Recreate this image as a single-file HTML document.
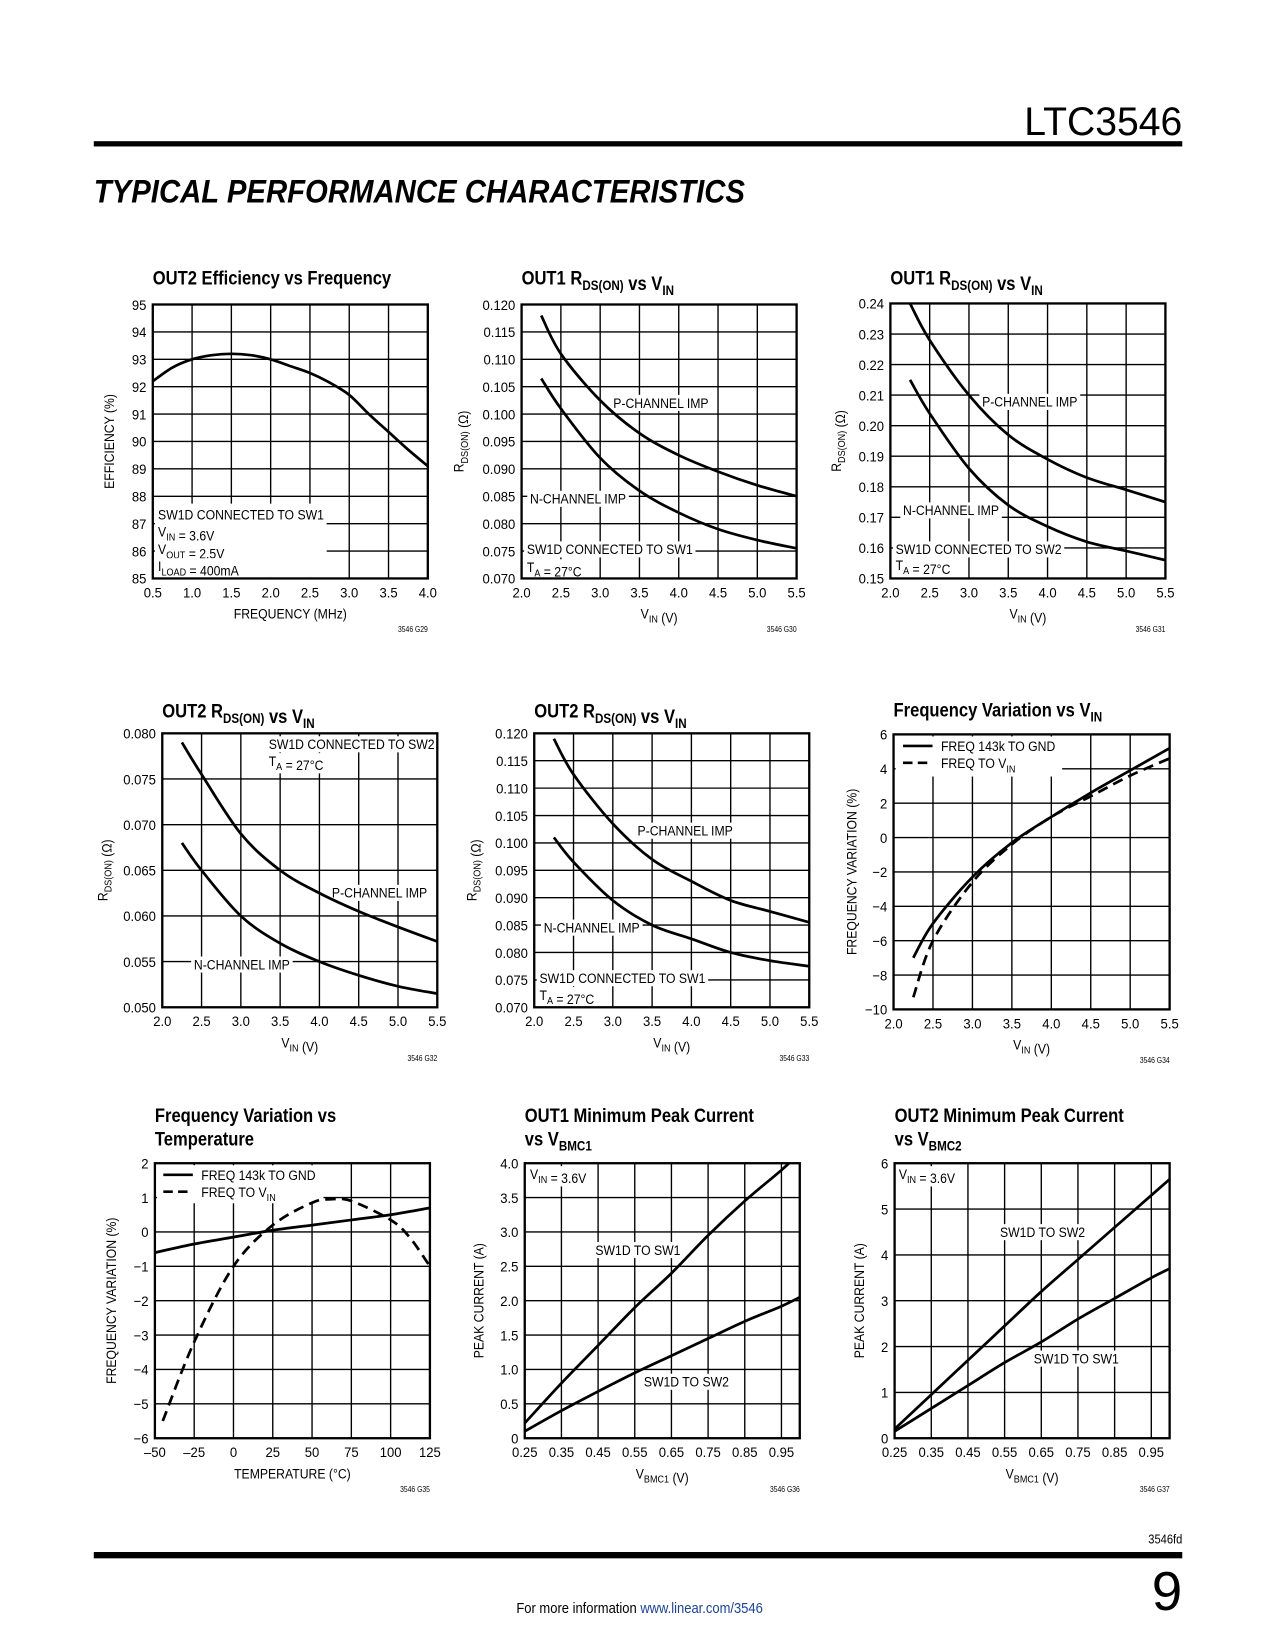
<!DOCTYPE html>
<html><head><meta charset="utf-8">
<style>
html,body{margin:0;padding:0;background:#fff;}
svg{display:block;}
text{font-family:"Liberation Sans",sans-serif;fill:#000;}
</style></head>
<body>
<svg id="page" width="1275" height="1650" viewBox="0 0 1210 1566" preserveAspectRatio="none" xmlns="http://www.w3.org/2000/svg">
<text x="1122" y="128" text-anchor="end" font-size="38" textLength="150" lengthAdjust="spacingAndGlyphs">LTC3546</text>
<rect x="89" y="134" width="1033" height="5" fill="#000"/>
<text x="89" y="192" font-size="31" font-weight="bold" font-style="italic" textLength="618" lengthAdjust="spacingAndGlyphs">TYPICAL PERFORMANCE CHARACTERISTICS</text>
<text x="1122" y="1465" text-anchor="end" font-size="12" transform="translate(1122 0) scale(0.88 1) translate(-1122 0)">3546fd</text>
<rect x="89" y="1473" width="1033" height="6" fill="#000"/>
<text x="1122" y="1528" text-anchor="end" font-size="52">9</text>
<text x="607" y="1531" text-anchor="middle" font-size="14" transform="translate(607 0) scale(0.88 1) translate(-607 0)">For more information <tspan style="fill:#1a3fa8">www.linear.com/3546</tspan></text>
</svg>
<script>
// ---- Chart data ----
const c1X=[0.5,0.75,1.0,1.25,1.5,1.75,2.0,2.25,2.5,2.75,3.0,3.25,3.5,3.75,4.0];
const c1Eff=[92.2,92.7,93.0,93.15,93.2,93.15,93.0,92.75,92.5,92.15,91.7,91.0,90.35,89.7,89.1];
const c2X=[2.25,2.5,3.0,3.5,4.0,4.5,5.0,5.5];
const c2P=[0.118,0.111,0.1025,0.0965,0.0925,0.0895,0.087,0.085];
const c2N=[0.1065,0.101,0.092,0.086,0.082,0.079,0.077,0.0755];
const c3X=[2.25,2.5,3.0,3.5,4.0,4.5,5.0,5.5];
const c3P=[0.24,0.228,0.21,0.197,0.189,0.183,0.179,0.175];
const c3N=[0.215,0.204,0.186,0.174,0.167,0.162,0.159,0.156];
const c4X=[2.25,2.5,3.0,3.5,4.0,4.5,5.0,5.5];
const c4P=[0.079,0.0755,0.069,0.065,0.0625,0.0605,0.0588,0.0572];
const c4N=[0.068,0.065,0.060,0.057,0.055,0.0535,0.0523,0.0515];
const c5X=[2.25,2.5,3.0,3.5,4.0,4.5,5.0,5.5];
const c5P=[0.119,0.1125,0.1035,0.097,0.093,0.0895,0.0875,0.0855];
const c5N=[0.101,0.0965,0.0895,0.085,0.0825,0.080,0.0785,0.0775];
const c6X=[2.25,2.5,3.0,3.5,4.0,4.5,5.0,5.5];
const c6Gnd=[-7.0,-5.0,-2.3,-0.3,1.2,2.6,3.9,5.2];
const c6Vin=[-9.3,-6.0,-2.6,-0.4,1.2,2.4,3.6,4.6];
const c7X=[-50,-25,0,25,50,75,100,125];
const c7Gnd=[-0.6,-0.35,-0.15,0.05,0.2,0.35,0.5,0.7];
const c7Xd=[-45,-25,0,25,50,62,75,100,112,125];
const c7Vin=[-5.5,-3.2,-1.0,0.2,0.85,0.95,0.9,0.35,-0.15,-1.0];
const c8X=[0.25,0.35,0.45,0.55,0.65,0.75,0.85,0.95,1.0];
const c8Sw1=[0.22,0.8,1.35,1.9,2.4,2.95,3.45,3.9,4.15];
const c8Sw2=[0.1,0.4,0.68,0.95,1.2,1.45,1.7,1.92,2.05];
const c9X=[0.25,0.35,0.45,0.55,0.65,0.75,0.85,0.95,1.0];
const c9Sw2=[0.2,0.95,1.7,2.45,3.2,3.9,4.6,5.3,5.65];
const c9Sw1=[0.15,0.65,1.15,1.65,2.1,2.6,3.05,3.5,3.7];
// tick labels
const tkR1=["2.0","2.5","3.0","3.5","4.0","4.5","5.0","5.5"];
const tkC1x=["0.5","1.0","1.5","2.0","2.5","3.0","3.5","4.0"];
const tkC1y=["85","86","87","88","89","90","91","92","93","94","95"];
const tkC2y=["0.070","0.075","0.080","0.085","0.090","0.095","0.100","0.105","0.110","0.115","0.120"];
const tkC3y=["0.15","0.16","0.17","0.18","0.19","0.20","0.21","0.22","0.23","0.24"];
const tkC4y=["0.050","0.055","0.060","0.065","0.070","0.075","0.080"];
const tkC6y=["\u221210","\u22128","\u22126","\u22124","\u22122","0","2","4","6"];
const tkC7x=["\u201350","\u201325","0","25","50","75","100","125"];
const tkC7y=["\u22126","\u22125","\u22124","\u22123","\u22122","\u22121","0","1","2"];
const tkC8x=["0.25","0.35","0.45","0.55","0.65","0.75","0.85","0.95"];
const tkC8y=["0","0.5","1.0","1.5","2.0","2.5","3.0","3.5","4.0"];
const tkC9y=["0","1","2","3","4","5","6"];

const NS='http://www.w3.org/2000/svg';
const svg=document.getElementById('page');
const SC=0.86, SCT=0.92;
function mk(p,tag,attrs){const e=document.createElementNS(NS,tag);for(const k in attrs)e.setAttribute(k,attrs[k]);p.appendChild(e);return e;}
function T(p,x,y,size,html,o){o=o||{};
  const t=mk(p,'text',{x:0,y:0,'font-size':size,'text-anchor':o.anchor||'start','font-weight':o.bold?'bold':'normal',
    transform:'translate('+x+' '+y+') '+(o.rot?'rotate(-90) ':'')+'scale('+(o.sc||SC)+' 1)'});
  t.innerHTML=html;return t;}
function range(a,b,s){const r=[];for(let v=a;v<=b+1e-9;v+=s)r.push(+v.toFixed(6));return r;}
function smooth(pts){let d='M'+pts[0][0]+','+pts[0][1];for(let i=0;i<pts.length-1;i++){const p0=pts[i-1]||pts[i],p1=pts[i],p2=pts[i+1],p3=pts[i+2]||p2;
d+=' C'+(p1[0]+(p2[0]-p0[0])/6)+','+(p1[1]+(p2[1]-p0[1])/6)+' '+(p2[0]-(p3[0]-p1[0])/6)+','+(p2[1]-(p3[1]-p1[1])/6)+' '+p2[0]+','+p2[1];}return d;}
let clipN=0;
function drawChart(c){
  const g=mk(svg,'g',{});
  
  
  const sx=v=>c.x0+(v-c.xmin)/(c.xmax-c.xmin)*(c.x1-c.x0);
  const sy=v=>c.y1-(v-c.ymin)/(c.ymax-c.ymin)*(c.y1-c.y0);
  c.title.forEach((t,i)=>{const tt=T(g,c.x0,c.ty+i*22,18.5,t,{bold:true,sc:0.85});
    
    });
  c.xgrid.forEach(v=>{const l=mk(g,'line',{x1:sx(v),x2:sx(v),y1:c.y0,y2:c.y1,stroke:'#000','stroke-width':1.3});
    
    });
  c.ygrid.forEach(v=>{const l=mk(g,'line',{x1:c.x0,x2:c.x1,y1:sy(v),y2:sy(v),stroke:'#000','stroke-width':1.3});
    
    });
  (c.boxes||[]).forEach(bx=>{const r=mk(g,'rect',{x:bx[0],y:bx[1],width:bx[2],height:bx[3],fill:'#fff'});
    
    });
  (c.notes||[]).forEach(n=>{const t=T(g,n.x,n.y,13.5,n.t);
    
    
    const b=t.getBBox();const r=mk(g,'rect',{x:b.x-3,y:b.y,width:b.width+6,height:b.height,fill:'#fff',transform:t.getAttribute('transform')});
    
    
    g.insertBefore(r,t);});
  (c.legend||[]).forEach(L=>{const l=mk(g,'line',{x1:L.x,x2:L.x+28,y1:L.y,y2:L.y,stroke:'#000','stroke-width':2.5,'stroke-dasharray':L.dash?'9 5':'none'});
    
    
    const t=T(g,L.x+36,L.y+5,13.5,L.t);
    
    });
  const cid='clip'+(clipN++);
  const cp=mk(g,'clipPath',{id:cid});mk(cp,'rect',{x:c.x0,y:c.y0,width:c.x1-c.x0,height:c.y1-c.y0});
  c.series.forEach(s=>{const pts=s.x.map((v,i)=>[sx(v),sy(s.y[i])]);
    const p=mk(g,'path',{d:smooth(pts),fill:'none',stroke:'#000','stroke-width':2.6,'stroke-dasharray':s.dash?'10 6':'none','clip-path':'url(#'+cid+')'});
    
    });
  const fr=mk(g,'rect',{x:c.x0,y:c.y0,width:c.x1-c.x0,height:c.y1-c.y0,fill:'none',stroke:'#000','stroke-width':2.2});
  
  
  c.xticks.forEach((v,i)=>{const t=T(g,sx(v),c.y1+18,13.5,c.xlab[i],{anchor:'middle',sc:SCT});
    
    });
  c.yticks.forEach((v,i)=>{const t=T(g,c.x0-6,sy(v)+5,13.5,c.ylab[i],{anchor:'end',sc:SCT});
    
    });
  const xt=T(g,(c.x0+c.x1)/2,c.y1+38,13.5,c.xtitle,{anchor:'middle'});
  
  
  const yt=T(g,c.ytx,(c.y0+c.y1)/2,13.5,c.ytitle,{anchor:'middle',rot:true});
  
  
  const code=T(g,c.x1,c.y1+51,7.5,c.code,{anchor:'end'});
  
  
}
const sub=(a,b)=>a+'<tspan dy="4" font-size="10">'+b+'</tspan><tspan dy="-4"></tspan>';
const subT=(a,b)=>a+'<tspan dy="5" font-size="13">'+b+'</tspan><tspan dy="-5"></tspan>';
const RDS=sub('R','DS(ON)')+' (\u03A9)';
const VINX=sub('V','IN')+' (V)';
const vx=range(2,5.5,0.5);
const TA=sub('T','A')+' = 27\u00B0C';

drawChart({name:'chart-out2-efficiency',x0:145,x1:406,y0:289,y1:549,xmin:0.5,xmax:4,ymin:85,ymax:95,ty:270,
 title:['OUT2 Efficiency vs Frequency'],xgrid:range(0.5,4,0.5),ygrid:range(85,95,1),xticks:range(0.5,4,0.5),xlab:tkC1x,yticks:range(85,95,1),ylab:tkC1y,
 xtitle:'FREQUENCY (MHz)',ytitle:'EFFICIENCY (%)',ytx:108,code:'3546 G29',
 boxes:[[147,478,163,70]],
 notes:[{x:150,y:493,t:'SW1D CONNECTED TO SW1'},{x:150,y:509,t:sub('V','IN')+' = 3.6V'},{x:150,y:526,t:sub('V','OUT')+' = 2.5V'},{x:150,y:542,t:sub('I','LOAD')+' = 400mA'}],
 series:[{name:'efficiency-curve',x:c1X,y:c1Eff}]});
drawChart({name:'chart-out1-rdson-a',x0:495,x1:756,y0:289,y1:549,xmin:2,xmax:5.5,ymin:0.07,ymax:0.12,ty:270,
 title:['OUT1 '+subT('R','DS(ON)')+' vs '+subT('V','IN')],xgrid:vx,ygrid:range(0.07,0.12,0.005),xticks:vx,xlab:tkR1,yticks:range(0.07,0.12,0.005),ylab:tkC2y,
 xtitle:VINX,ytitle:RDS,ytx:440,code:'3546 G30',
 notes:[{x:582,y:387,t:'P-CHANNEL IMP'},{x:503,y:478,t:'N-CHANNEL IMP'},{x:500,y:526,t:'SW1D CONNECTED TO SW1'},{x:500,y:543,t:TA}],
 series:[{name:'p-channel-curve',x:c2X,y:c2P},{name:'n-channel-curve',x:c2X,y:c2N}]});
drawChart({name:'chart-out1-rdson-b',x0:845,x1:1106,y0:288,y1:549,xmin:2,xmax:5.5,ymin:0.15,ymax:0.24,ty:270,
 title:['OUT1 '+subT('R','DS(ON)')+' vs '+subT('V','IN')],xgrid:vx,ygrid:range(0.15,0.24,0.01),xticks:vx,xlab:tkR1,yticks:range(0.15,0.24,0.01),ylab:tkC3y,
 xtitle:VINX,ytitle:RDS,ytx:798,code:'3546 G31',
 notes:[{x:932,y:386,t:'P-CHANNEL IMP'},{x:857,y:489,t:'N-CHANNEL IMP'},{x:850,y:526,t:'SW1D CONNECTED TO SW2'},{x:850,y:541,t:TA}],
 series:[{name:'p-channel-curve',x:c3X,y:c3P},{name:'n-channel-curve',x:c3X,y:c3N}]});
drawChart({name:'chart-out2-rdson-a',x0:154,x1:415,y0:696,y1:956,xmin:2,xmax:5.5,ymin:0.05,ymax:0.08,ty:681,
 title:['OUT2 '+subT('R','DS(ON)')+' vs '+subT('V','IN')],xgrid:vx,ygrid:range(0.05,0.08,0.005),xticks:vx,xlab:tkR1,yticks:range(0.05,0.08,0.005),ylab:tkC4y,
 xtitle:VINX,ytitle:RDS,ytx:102,code:'3546 G32',
 notes:[{x:255,y:711,t:'SW1D CONNECTED TO SW2'},{x:255,y:727,t:TA},{x:315,y:852,t:'P-CHANNEL IMP'},{x:184,y:920,t:'N-CHANNEL IMP'}],
 series:[{name:'p-channel-curve',x:c4X,y:c4P},{name:'n-channel-curve',x:c4X,y:c4N}]});
drawChart({name:'chart-out2-rdson-b',x0:507,x1:768,y0:696,y1:956,xmin:2,xmax:5.5,ymin:0.07,ymax:0.12,ty:681,
 title:['OUT2 '+subT('R','DS(ON)')+' vs '+subT('V','IN')],xgrid:vx,ygrid:range(0.07,0.12,0.005),xticks:vx,xlab:tkR1,yticks:range(0.07,0.12,0.005),ylab:tkC2y,
 xtitle:VINX,ytitle:RDS,ytx:452,code:'3546 G33',
 notes:[{x:605,y:793,t:'P-CHANNEL IMP'},{x:516,y:885,t:'N-CHANNEL IMP'},{x:512,y:933,t:'SW1D CONNECTED TO SW1'},{x:512,y:949,t:TA}],
 series:[{name:'p-channel-curve',x:c5X,y:c5P},{name:'n-channel-curve',x:c5X,y:c5N}]});
drawChart({name:'chart-freq-vs-vin',x0:848,x1:1110,y0:697,y1:958,xmin:2,xmax:5.5,ymin:-10,ymax:6,ty:680,
 title:['Frequency Variation vs '+subT('V','IN')],xgrid:vx,ygrid:range(-10,6,2),xticks:vx,xlab:tkR1,yticks:range(-10,6,2),ylab:tkC6y,
 xtitle:VINX,ytitle:'FREQUENCY VARIATION (%)',ytx:813,code:'3546 G34',
 boxes:[[850,699,158,38]],
 legend:[{x:857,y:708,t:'FREQ 143k TO GND'},{x:857,y:724,t:sub('FREQ TO V','IN'),dash:true}],
 series:[{name:'freq-gnd-curve',x:c6X,y:c6Gnd},{name:'freq-vin-curve',x:c6X,y:c6Vin,dash:true}]});
drawChart({name:'chart-freq-vs-temp',x0:147,x1:408,y0:1104,y1:1365,xmin:-50,xmax:125,ymin:-6,ymax:2,ty:1065,
 title:['Frequency Variation vs','Temperature'],xgrid:range(-50,125,25),ygrid:range(-6,2,1),xticks:range(-50,125,25),xlab:tkC7x,yticks:range(-6,2,1),ylab:tkC7y,
 xtitle:'TEMPERATURE (\u00B0C)',ytitle:'FREQUENCY VARIATION (%)',ytx:110,code:'3546 G35',
 boxes:[[149,1106,158,36]],
 legend:[{x:155,y:1115,t:'FREQ 143k TO GND'},{x:155,y:1131,t:sub('FREQ TO V','IN'),dash:true}],
 series:[{name:'freq-gnd-curve',x:c7X,y:c7Gnd},{name:'freq-vin-curve',x:c7Xd,y:c7Vin,dash:true}]});
drawChart({name:'chart-out1-peak-current',x0:498,x1:759,y0:1104,y1:1365,xmin:0.25,xmax:1.0,ymin:0,ymax:4,ty:1065,
 title:['OUT1 Minimum Peak Current','vs '+subT('V','BMC1')],xgrid:range(0.35,0.95,0.1),ygrid:range(0,4,0.5),xticks:range(0.25,0.95,0.1),xlab:tkC8x,yticks:range(0,4,0.5),ylab:tkC8y,
 xtitle:sub('V','BMC1')+' (V)',ytitle:'PEAK CURRENT (A)',ytx:459,code:'3546 G36',
 notes:[{x:503,y:1119,t:sub('V','IN')+' = 3.6V'},{x:565,y:1191,t:'SW1D TO SW1'},{x:611,y:1316,t:'SW1D TO SW2'}],
 series:[{name:'sw1-curve',x:c8X,y:c8Sw1},{name:'sw2-curve',x:c8X,y:c8Sw2}]});
drawChart({name:'chart-out2-peak-current',x0:849,x1:1110,y0:1104,y1:1365,xmin:0.25,xmax:1.0,ymin:0,ymax:6,ty:1065,
 title:['OUT2 Minimum Peak Current','vs '+subT('V','BMC2')],xgrid:range(0.35,0.95,0.1),ygrid:range(0,6,1),xticks:range(0.25,0.95,0.1),xlab:tkC8x,yticks:range(0,6,1),ylab:tkC9y,
 xtitle:sub('V','BMC1')+' (V)',ytitle:'PEAK CURRENT (A)',ytx:820,code:'3546 G37',
 notes:[{x:853,y:1119,t:sub('V','IN')+' = 3.6V'},{x:949,y:1174,t:'SW1D TO SW2'},{x:981,y:1294,t:'SW1D TO SW1'}],
 series:[{name:'sw2-curve',x:c9X,y:c9Sw2},{name:'sw1-curve',x:c9X,y:c9Sw1}]});
</script>
</body></html>
